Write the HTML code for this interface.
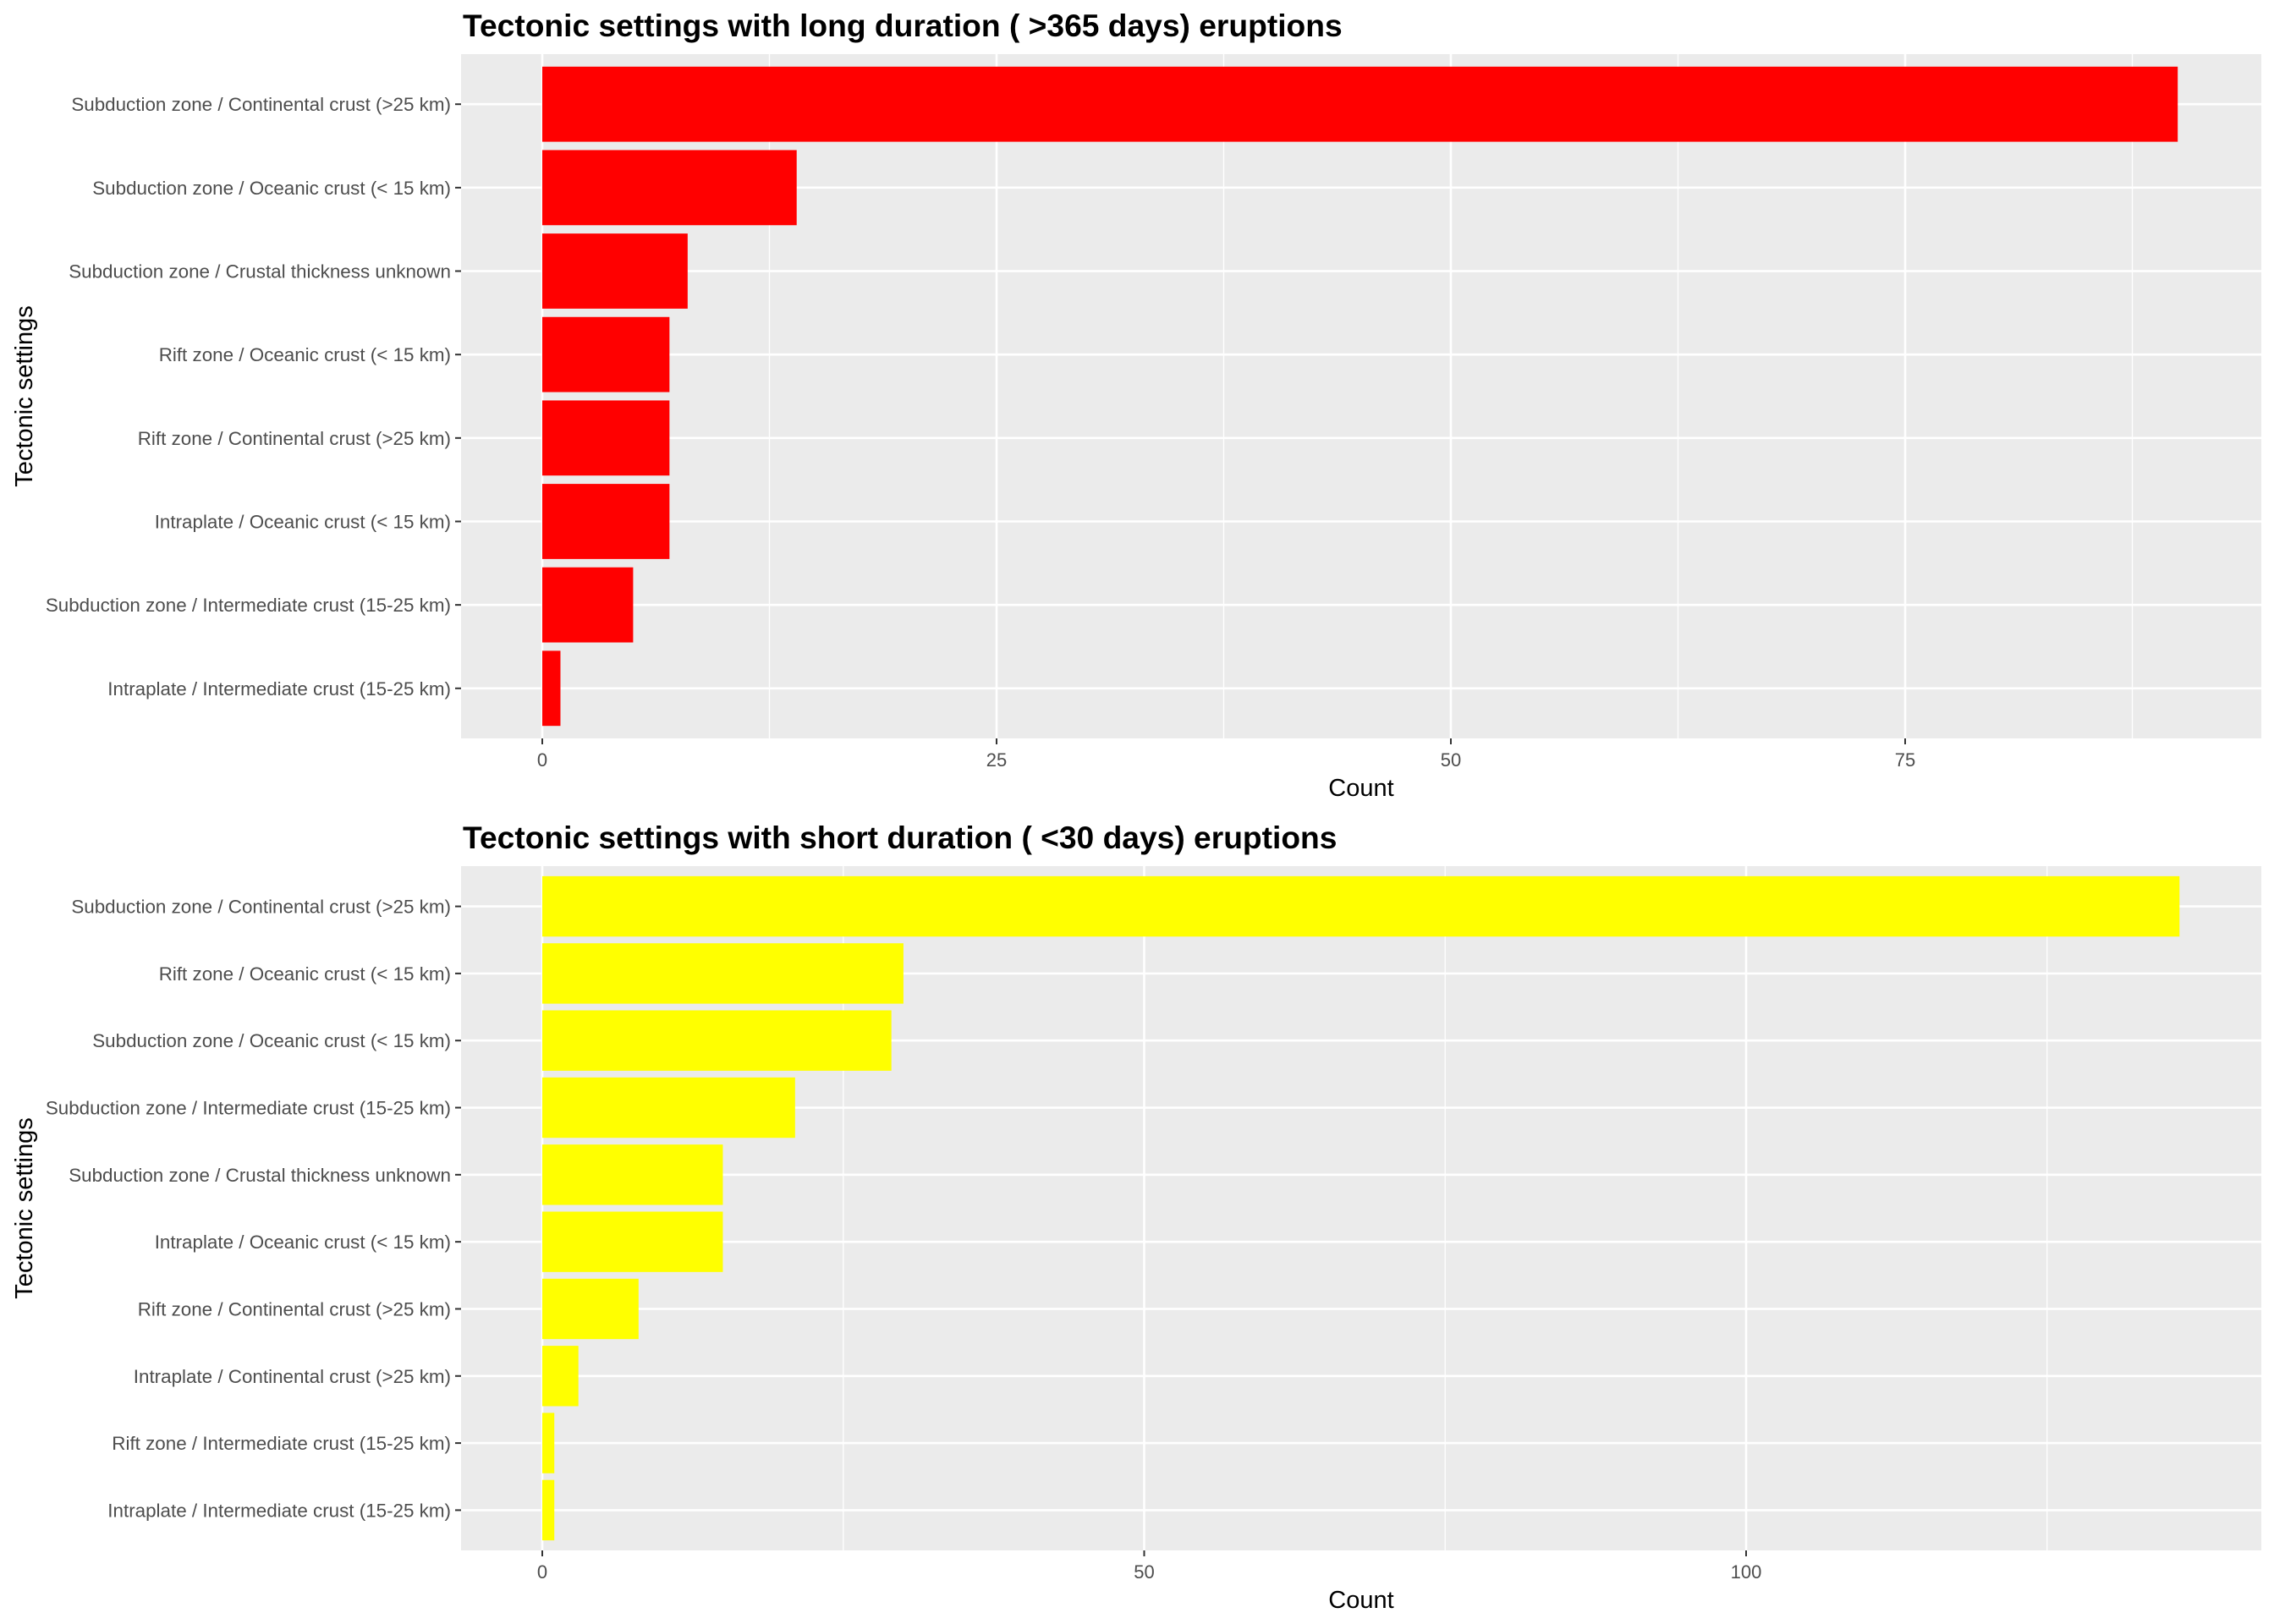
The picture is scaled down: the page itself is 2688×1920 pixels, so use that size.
<!DOCTYPE html>
<html><head><meta charset="utf-8"><style>
body{margin:0;background:#fff}
svg{display:block;font-family:"Liberation Sans",Arial,sans-serif}
</style></head><body>
<svg id="c" width="2688" height="1920" xmlns="http://www.w3.org/2000/svg"></svg>
<script>
const longCats=["Subduction zone / Continental crust (>25 km)","Subduction zone / Oceanic crust (< 15 km)","Subduction zone / Crustal thickness unknown","Rift zone / Oceanic crust (< 15 km)","Rift zone / Continental crust (>25 km)","Intraplate / Oceanic crust (< 15 km)","Subduction zone / Intermediate crust (15-25 km)","Intraplate / Intermediate crust (15-25 km)"];
const longVals=[90,14,8,7,7,7,5,1];
const longTicks=[0,25,50,75];
const shortCats=["Subduction zone / Continental crust (>25 km)","Rift zone / Oceanic crust (< 15 km)","Subduction zone / Oceanic crust (< 15 km)","Subduction zone / Intermediate crust (15-25 km)","Subduction zone / Crustal thickness unknown","Intraplate / Oceanic crust (< 15 km)","Rift zone / Continental crust (>25 km)","Intraplate / Continental crust (>25 km)","Rift zone / Intermediate crust (15-25 km)","Intraplate / Intermediate crust (15-25 km)"];
const shortVals=[136,30,29,21,15,15,8,3,1,1];
const shortTicks=[0,50,100];

const NS="http://www.w3.org/2000/svg";
const svg=document.getElementById('c');
function mk(tag,attrs,parent){const e=document.createElementNS(NS,tag);for(const k in attrs)e.setAttribute(k,attrs[k]);(parent||svg).appendChild(e);return e;}

function panel(o){
  const g=mk('g',{});
  
  
  const L=545,R=2673,T=o.top,B=o.bottom;
  const x0=641,sc=o.scale;
  const xs=v=>x0+v*sc;
  const n=o.cats.length;
  const band=(B-T)/(n-1+1.2);
  const ys=i=>T+band*(0.6+i);
  const t=mk('text',{x:547,y:T-21,'font-size':37.2,'font-weight':'bold',fill:'#000'},g);t.textContent=o.title;
  
  
  const bg=mk('rect',{x:L,y:T,width:R-L,height:B-T,fill:'#ebebeb'},g);
  
  
  const step=o.ticks[1]-o.ticks[0];
  for(let v=o.ticks[0]+step/2;xs(v)<R;v+=step){
    const l=mk('line',{x1:xs(v),x2:xs(v),y1:T,y2:B,stroke:'#fff','stroke-width':1.3},g);
    
    
  }
  o.ticks.forEach(v=>{
    const l=mk('line',{x1:xs(v),x2:xs(v),y1:T,y2:B,stroke:'#fff','stroke-width':2.6},g);
    
    
    mk('line',{x1:xs(v),x2:xs(v),y1:B,y2:B+7,stroke:'#333','stroke-width':2},g);
    const tl=mk('text',{x:xs(v),y:B+33,'font-size':22,fill:'#4d4d4d','text-anchor':'middle'},g);tl.textContent=v;
    
    
  });
  o.cats.forEach((c,i)=>{
    const y=ys(i);
    const l=mk('line',{x1:L,x2:R,y1:y,y2:y,stroke:'#fff','stroke-width':2.6},g);
    
    
  });
  o.cats.forEach((c,i)=>{
    const y=ys(i),h=band*0.9;
    const b=mk('rect',{x:xs(0),y:y-h/2,width:xs(o.vals[i])-xs(0),height:h,fill:o.color},g);
    
    
    mk('line',{x1:L-7,x2:L,y1:y,y2:y,stroke:'#333','stroke-width':2},g);
    const tl=mk('text',{x:L-12,y:y+8,'font-size':22.4,fill:'#4d4d4d','text-anchor':'end'},g);tl.textContent=c;
    
    
  });
  const xt=mk('text',{x:(L+R)/2,y:B+68,'font-size':29,fill:'#000','text-anchor':'middle'},g);xt.textContent='Count';
  
  
  const cy=(T+B)/2;
  const yt=mk('text',{x:38,y:cy,'font-size':29,fill:'#000','text-anchor':'middle',transform:`rotate(-90 38 ${cy})`},g);yt.textContent='Tectonic settings';
  
  
}
panel({name:'long-duration-panel',title:'Tectonic settings with long duration ( >365 days) eruptions',top:64,bottom:873,scale:21.48,cats:longCats,vals:longVals,ticks:longTicks,color:'#ff0000'});
panel({name:'short-duration-panel',title:'Tectonic settings with short duration ( <30 days) eruptions',top:1024,bottom:1833,scale:14.23,cats:shortCats,vals:shortVals,ticks:shortTicks,color:'#ffff00'});
</script>
</body></html>
